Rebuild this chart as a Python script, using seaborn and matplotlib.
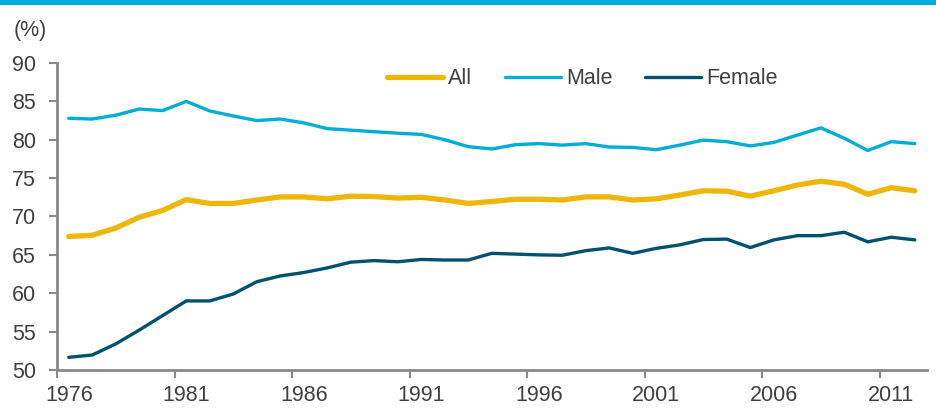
import matplotlib
matplotlib.use("Agg")
import matplotlib.pyplot as plt
import seaborn as sns
import pandas as pd
import numpy as np

years = list(range(1976, 2013))
all_rate = [67.4, 67.55, 68.5, 69.9, 70.8, 72.2, 71.7, 71.7, 72.15, 72.55, 72.55, 72.3, 72.65,
            72.6, 72.4, 72.5, 72.15, 71.7, 71.95, 72.25, 72.25, 72.15, 72.55, 72.55, 72.15,
            72.3, 72.8, 73.35, 73.3, 72.65, 73.35, 74.1, 74.6, 74.2, 72.9, 73.75, 73.35]
male_rate = [82.8, 82.7, 83.2, 84.0, 83.8, 85.0, 83.75, 83.1, 82.5, 82.7, 82.2, 81.45, 81.25,
             81.05, 80.85, 80.7, 80.0, 79.1, 78.8, 79.35, 79.5, 79.3, 79.5, 79.05, 79.0,
             78.7, 79.3, 79.95, 79.75, 79.2, 79.65, 80.6, 81.55, 80.2, 78.6, 79.75, 79.5]
female_rate = [51.65, 51.95, 53.4, 55.2, 57.1, 59.0, 59.0, 59.9, 61.5, 62.25, 62.7, 63.3, 64.05,
               64.25, 64.1, 64.4, 64.33, 64.33, 65.2, 65.1, 65.0, 64.95, 65.55, 65.9, 65.2,
               65.85, 66.3, 67.0, 67.05, 65.95, 66.95, 67.5, 67.5, 67.95, 66.7, 67.3, 66.95]
series_names = ["All", "Male", "Female"]
tick_years = [1976, 1981, 1986, 1991, 1996, 2001, 2006, 2011]
y_ticks = [50, 55, 60, 65, 70, 75, 80, 85, 90]

colors = {"All": "#EFB60A", "Male": "#00ADD8", "Female": "#00506F"}
widths = {"All": 3.8, "Male": 2.4, "Female": 2.4}
text_color = "#404040"
axis_color = "#888888"
font_size = 15.5

pos = np.arange(len(years))
df = pd.DataFrame({
    "pos": np.tile(pos, 3),
    "value": all_rate + male_rate + female_rate,
    "series": np.repeat(series_names, len(years)),
})

sns.set_theme(style="white")
plt.rcParams["font.family"] = ["Liberation Sans", "DejaVu Sans"]

fig = plt.figure(figsize=(9.36, 4.11), dpi=100)
ax = fig.add_axes([0.0609, 0.0998, 0.9290, 0.7469])

sns.lineplot(data=df, x="pos", y="value", hue="series", hue_order=series_names,
             palette=colors, ax=ax, legend=False, sort=False)
for line, name in zip(ax.get_lines(), series_names):
    line.set_linewidth(widths[name])
    line.set_solid_capstyle("round")
    line.set_solid_joinstyle("round")

ax.set_xlim(-0.5, len(years) - 0.5)
ax.set_ylim(50, 90)
ax.set_xlabel("")
ax.set_ylabel("")

# category boundaries carry the tick marks, category centres carry the labels
ax.set_xticks([years.index(y) - 0.5 for y in tick_years])
ax.set_xticklabels([])
ax.set_xticks([years.index(y) for y in tick_years], minor=True)
ax.set_xticklabels([str(y) for y in tick_years], minor=True)
ax.tick_params(axis="x", which="major", bottom=True, length=6, width=1.5, color=axis_color)
ax.tick_params(axis="x", which="minor", bottom=True, length=0, pad=11,
               labelsize=font_size, labelcolor=text_color)

ax.set_yticks(y_ticks)
ax.set_yticklabels([str(v) for v in y_ticks])
ax.tick_params(axis="y", left=True, length=6, width=1.5, color=axis_color,
               labelsize=font_size, labelcolor=text_color, pad=9)

for side in ["top", "right"]:
    ax.spines[side].set_visible(False)
for side in ["left", "bottom"]:
    ax.spines[side].set_color(axis_color)
    ax.spines[side].set_linewidth(2)

handles = [plt.Line2D([0], [0], color=colors[n], lw=widths[n], solid_capstyle="round")
           for n in series_names]
fig.legend(handles, series_names, loc="center", bbox_to_anchor=(0.622, 0.808), ncol=3,
           frameon=False, fontsize=font_size, handlelength=2.6, handletextpad=0.25,
           columnspacing=1.5, labelcolor=text_color)

fig.text(0.015, 0.927, "(%)", fontsize=font_size, color=text_color, va="center", ha="left")

# coloured band across the top edge
fig.add_artist(plt.Rectangle((0, 1 - 5 / 411), 1, 5 / 411, transform=fig.transFigure,
                             color="#00AAD4", lw=0))

fig.savefig("out.png", dpi=100)
